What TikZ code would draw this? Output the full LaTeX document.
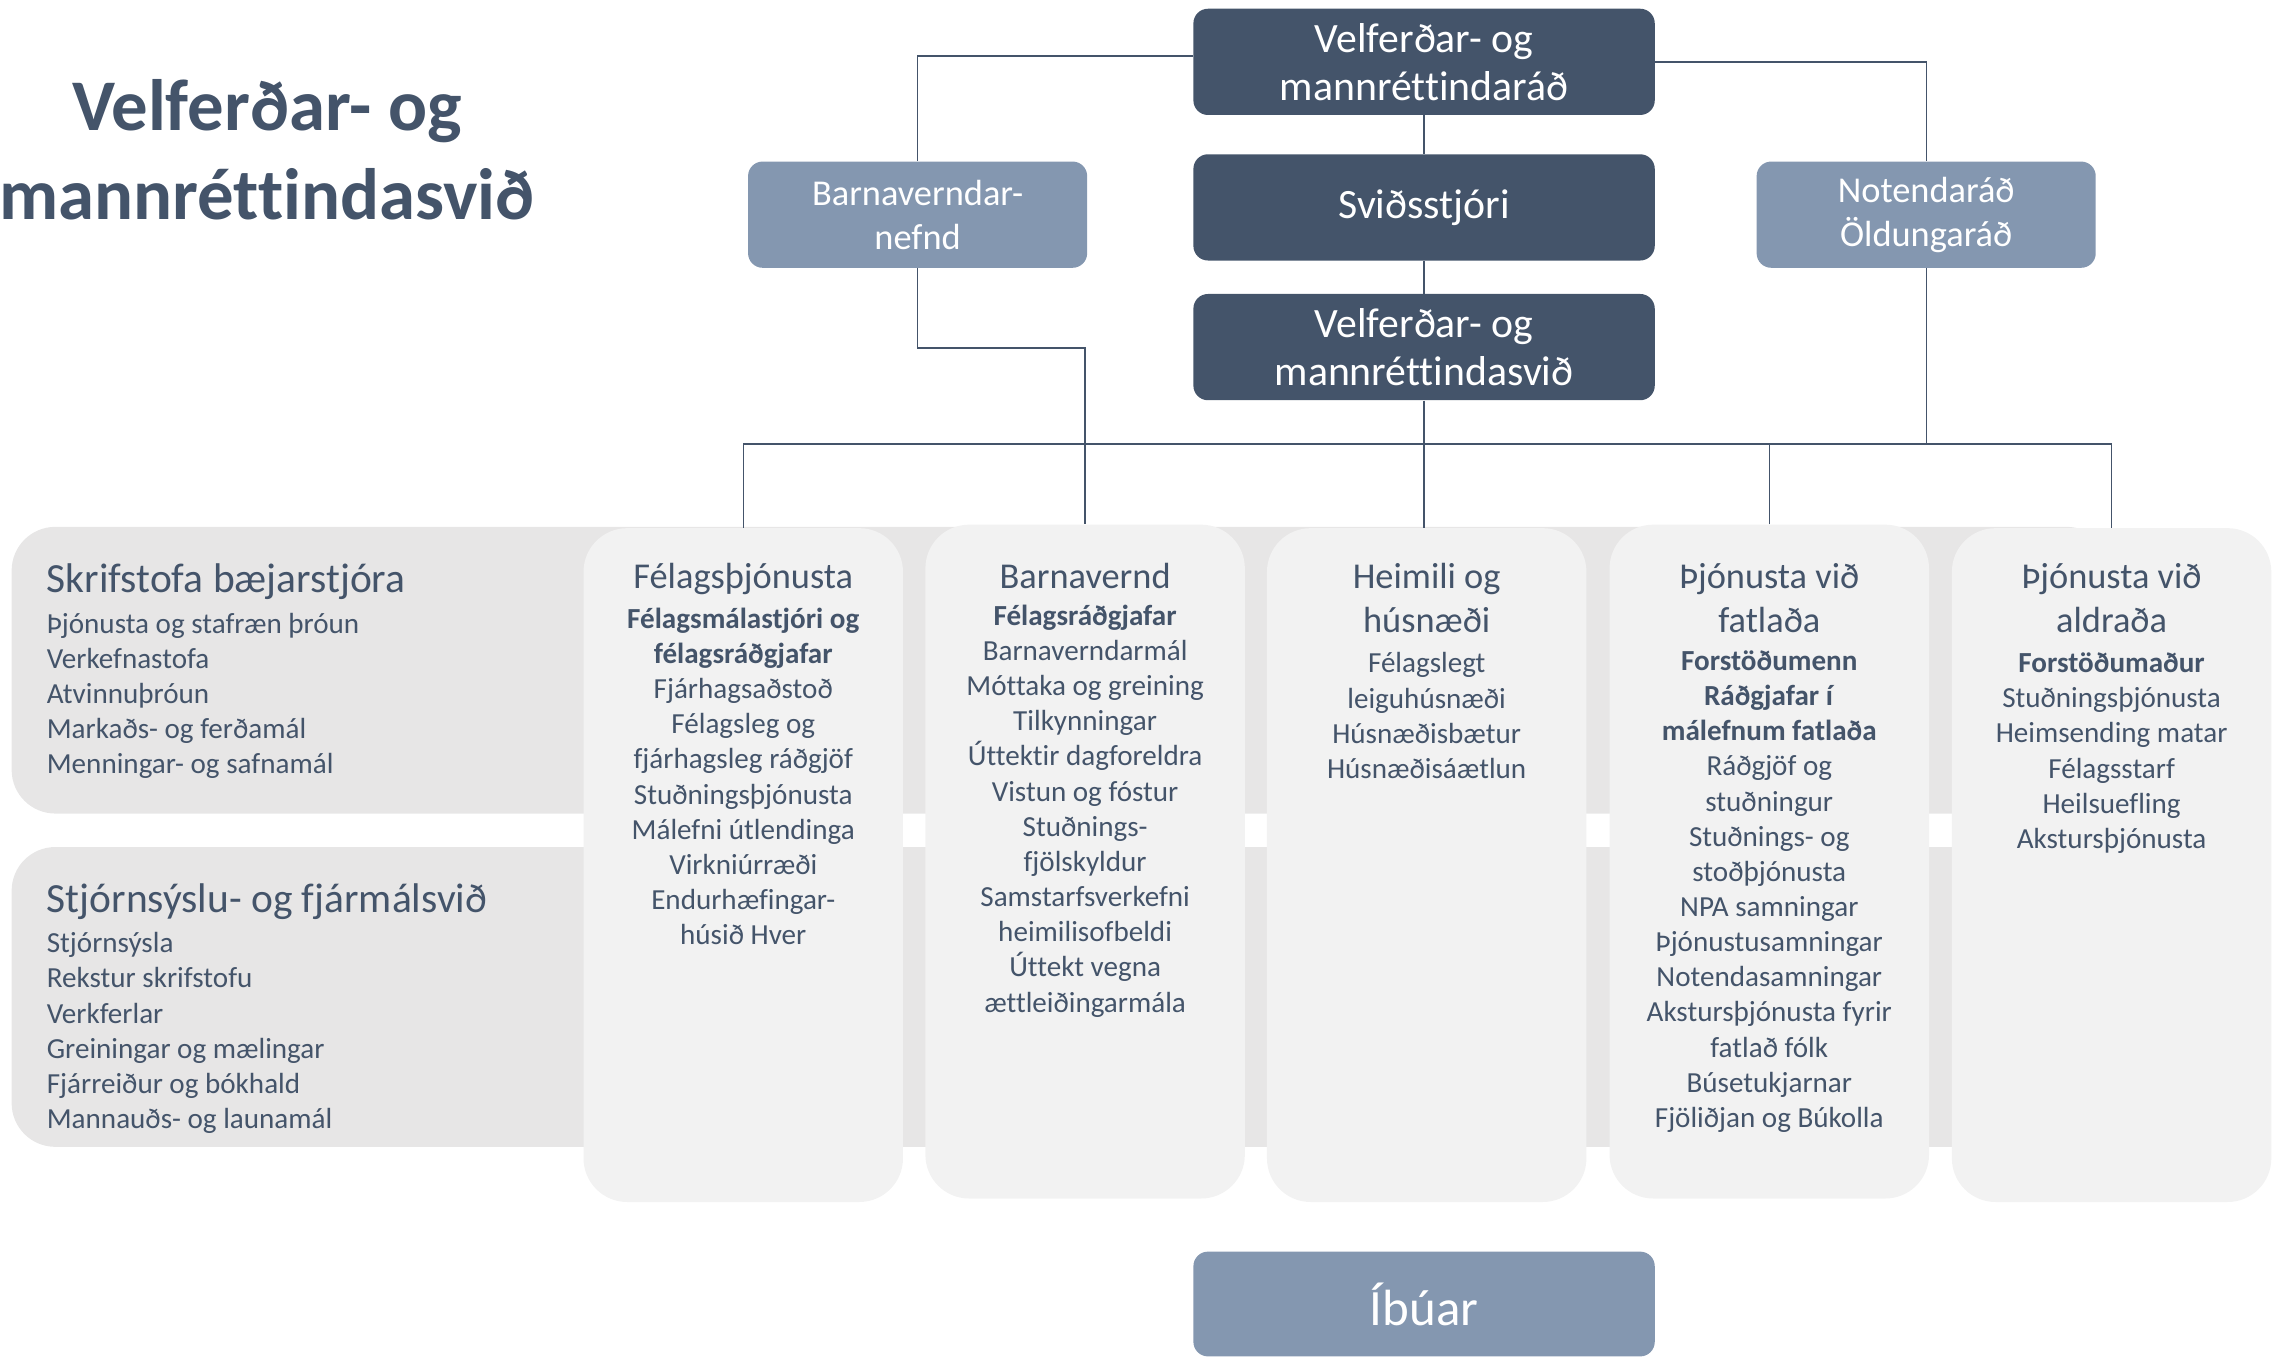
\documentclass[tikz,border=0pt]{standalone}
\usepackage{fontspec}
\setmainfont{Carlito}[Ligatures=NoCommon]
\definecolor{dark}{HTML}{44546A}
\definecolor{light}{HTML}{8497B0}
\definecolor{bandfill}{HTML}{E7E6E6}
\definecolor{colfill}{HTML}{F2F2F2}
\newcommand{\colhead}[1]{{\fontsize{25}{30}\selectfont #1}}
\newcommand{\bandhead}[1]{{\fontsize{28.5}{34}\selectfont #1}}
\newcommand{\itemfont}{\fontsize{20}{24.15}\selectfont\lineskiplimit-50pt\relax}
\tikzset{
  topbox/.style={fill=dark,text=white,rounded corners=10pt,minimum width=317pt,minimum height=73pt,align=center,font=\fontsize{28.7}{33}\selectfont},
  sidebox/.style={fill=light,text=white,rounded corners=10pt,minimum width=233pt,minimum height=73pt,align=center,font=\fontsize{25}{30}\selectfont},
  bandbox/.style={fill=bandfill,rounded corners=30pt,minimum width=1442pt,inner sep=0pt},
  colbox/.style={fill=colfill,rounded corners=30pt,minimum width=219.5pt,minimum height=463pt,inner sep=0pt},
  coltext/.style={anchor=north,align=center,text=dark,inner sep=0pt,font=\itemfont},
  bandtext/.style={anchor=north west,align=left,text=dark,inner sep=0pt,font=\itemfont},
  link/.style={draw=dark,line width=0.9pt}
}
\begin{document}
\begin{tikzpicture}[x=1pt,y=-1pt]
  \useasboundingbox (0,0) rectangle (1568,932.4);
  \node[anchor=north,align=center,text=dark,font=\fontsize{50}{61}\selectfont\bfseries] (title) at (183.5,51) {Velferðar- og\\mannréttindasvið};

  % rows behind the columns
  \node[bandbox,minimum height=197pt] (skrif) at (729,460.5) {};
  \node[bandbox,minimum height=206pt] (stjorn) at (729,685) {};
  \node[bandtext] (skriftxt) at (32,387) {\bandhead{Skrifstofa bæjarstjóra}\\[4pt]
    Þjónusta og stafræn þróun\\ Verkefnastofa\\ Atvinnuþróun\\ Markaðs- og ferðamál\\ Menningar- og safnamál};
  \node[bandtext] (stjorntxt) at (32,607) {\bandhead{Stjórnsýslu- og fjármálsvið}\\[3.5pt]
    Stjórnsýsla\\ Rekstur skrifstofu\\ Verkferlar\\ Greiningar og mælingar\\ Fjárreiður og bókhald\\ Mannauðs- og launamál};

  % top of the chart
  \node[topbox] (vmr) at (978.5,42.5) {Velferðar- og\\mannréttindaráð};
  \node[topbox] (svst) at (978.5,142.5) {Sviðsstjóri};
  \node[topbox] (vms) at (978.5,238.5) {Velferðar- og\\mannréttindasvið};
  \node[sidebox] (bvn) at (630.5,147.5) {Barnaverndar-\\nefnd};
  \node[sidebox] (notr) at (1323.5,147.5) {Notendaráð\\Öldungaráð};

  % columns
  \node[colbox] (felag) at (510.7,594.4) {};
  \node[colbox] (barna) at (745.6,592) {};
  \node[colbox] (heim) at (980.3,594.4) {};
  \node[colbox] (fatl) at (1215.7,592) {};
  \node[colbox] (aldr) at (1450.9,594.4) {};

  \coordinate (bus) at (0,305);
  \draw[link] ([yshift=4pt]vmr.west) -| (bvn.north);
  \draw[link] (vmr.east) -| (notr.north);
  \draw[link] (vmr.south) -- (svst.north);
  \draw[link] (svst.south) -- (vms.north);
  \draw[link] (vms.south) -- (vms.south |- heim.north);
  \draw[link] (felag.north) |- (bus -| aldr.north) -- (aldr.north);
  \draw[link] (fatl.north) -- (fatl.north |- bus);
  \draw[link] (notr.south) -- (notr.south |- bus);
  \draw[link] (bvn.south) -- ++(0,55) -| (barna.north);

  \node[coltext] (felagtxt) at (felag.north |- 0,387) {\colhead{Félagsþjónusta}\\[3pt]
    \textbf{Félagsmálastjóri og}\\ \textbf{félagsráðgjafar}\\ Fjárhagsaðstoð\\ Félagsleg og\\ fjárhagsleg ráðgjöf\\
    Stuðningsþjónusta\\ Málefni útlendinga\\ Virkniúrræði\\ Endurhæfingar-\\ húsið Hver};
  \node[coltext] (barnatxt) at (barna.north |- 0,387) {\colhead{Barnavernd}\\[1pt]
    \textbf{Félagsráðgjafar}\\ Barnaverndarmál\\ Móttaka og greining\\ Tilkynningar\\ Úttektir dagforeldra\\
    Vistun og fóstur\\ Stuðnings-\\ fjölskyldur\\ Samstarfsverkefni\\ heimilisofbeldi\\ Úttekt vegna\\ ættleiðingarmála};
  \node[coltext] (heimtxt) at (heim.north |- 0,387) {\colhead{Heimili og}\\[6pt] \colhead{húsnæði}\\[3.5pt]
    Félagslegt\\ leiguhúsnæði\\ Húsnæðisbætur\\ Húsnæðisáætlun};
  \node[coltext] (fatltxt) at (fatl.north |- 0,387) {\colhead{Þjónusta við}\\[6pt] \colhead{fatlaða}\\[2pt]
    \textbf{Forstöðumenn}\\ \textbf{Ráðgjafar í}\\ \textbf{málefnum fatlaða}\\ Ráðgjöf og\\ stuðningur\\
    Stuðnings- og\\ stoðþjónusta\\ NPA samningar\\ Þjónustusamningar\\ Notendasamningar\\
    Akstursþjónusta fyrir\\ fatlað fólk\\ Búsetukjarnar\\ Fjöliðjan og Búkolla};
  \node[coltext] (aldrtxt) at (aldr.north |- 0,387) {\colhead{Þjónusta við}\\[6pt] \colhead{aldraða}\\[3.5pt]
    \textbf{Forstöðumaður}\\ Stuðningsþjónusta\\ Heimsending matar\\ Félagsstarf\\ Heilsuefling\\ Akstursþjónusta};

  \node[topbox,fill=light,minimum height=72pt,font=\fontsize{35}{42}\selectfont] (ibuar) at (978.5,896) {Íbúar};
\end{tikzpicture}
\end{document}
